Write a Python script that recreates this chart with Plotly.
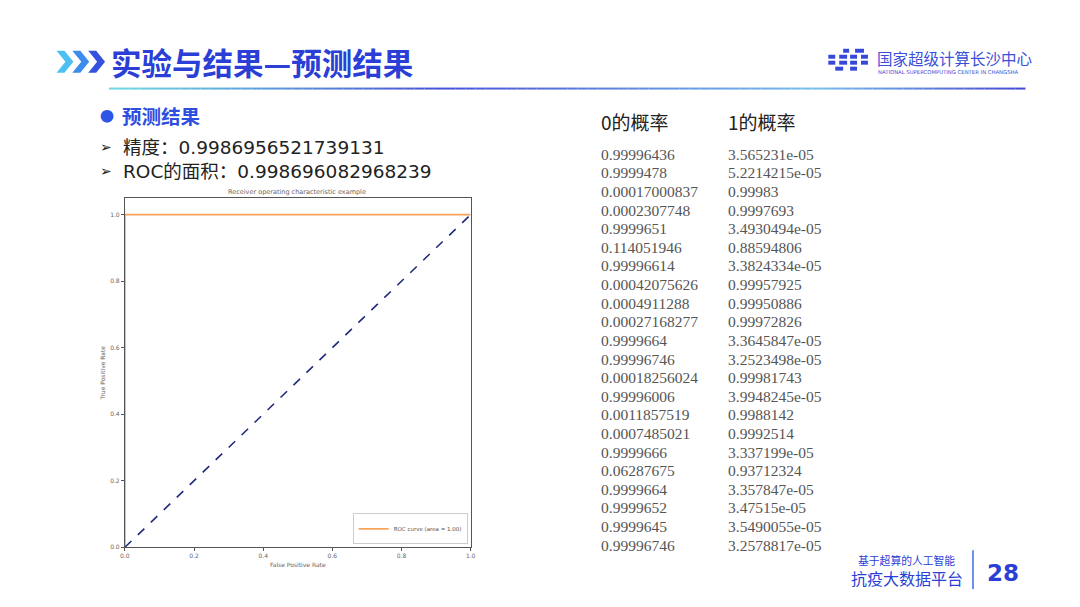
import plotly.graph_objects as go

W, H = 1080, 607

# ---------------- data ----------------
fpr = [0.0, 0.0, 1.0]
tpr = [0.0, 1.0, 1.0]
diag_x = [0.0, 1.0]
diag_y = [0.0, 1.0]
roc_auc_label = "ROC curve (area = 1.00)"
tick_vals = [0.0, 0.2, 0.4, 0.6, 0.8, 1.0]

accuracy = "0.9986956521739131"
roc_area = "0.998696082968239"

prob_header = ["0的概率", "1的概率"]
prob0 = ["0.99996436", "0.9999478", "0.00017000837", "0.0002307748", "0.9999651",
         "0.114051946", "0.99996614", "0.00042075626", "0.0004911288", "0.00027168277",
         "0.9999664", "0.99996746", "0.00018256024", "0.99996006", "0.0011857519",
         "0.0007485021", "0.9999666", "0.06287675", "0.9999664", "0.9999652",
         "0.9999645", "0.99996746"]
prob1 = ["3.565231e-05", "5.2214215e-05", "0.99983", "0.9997693", "3.4930494e-05",
         "0.88594806", "3.3824334e-05", "0.99957925", "0.99950886", "0.99972826",
         "3.3645847e-05", "3.2523498e-05", "0.99981743", "3.9948245e-05", "0.9988142",
         "0.9992514", "3.337199e-05", "0.93712324", "3.357847e-05", "3.47515e-05",
         "3.5490055e-05", "3.2578817e-05"]

# ---------------- helpers ----------------
def px(x):
    return x / W

def py(y):
    return 1 - y / H

CJK = "Noto Sans CJK SC"
BLUE = "#2b3fd6"

fig = go.Figure()

# ROC chart
fig.add_trace(go.Scatter(x=fpr, y=tpr, mode="lines", name=roc_auc_label,
                         line=dict(color="#f7a35c", width=1.8)))
fig.add_trace(go.Scatter(x=diag_x, y=diag_y, mode="lines", showlegend=False,
                         line=dict(color="#1f2a7a", width=1.6, dash="dash")))

axis_common = dict(showgrid=False, zeroline=False, showline=True, linecolor="#555",
                   linewidth=1, mirror=True, ticks="outside", ticklen=3,
                   tickcolor="#555", tickvals=tick_vals, tickformat=".1f",
                   tickfont=dict(family="DejaVu Sans", size=6, color="#666"))
fig.update_layout(
    width=W, height=H, autosize=False,
    margin=dict(l=0, r=0, t=0, b=0),
    paper_bgcolor="white", plot_bgcolor="white",
    xaxis=dict(domain=[px(121), px(470)], range=[0, 1], anchor="y",
               title=dict(text="False Positive Rate", standoff=4,
                          font=dict(family="DejaVu Sans", size=6, color="#666")),
               **axis_common),
    yaxis=dict(domain=[py(550), py(199)], range=[0, 1.05], anchor="x",
               title=dict(text="True Positive Rate", standoff=4,
                          font=dict(family="DejaVu Sans", size=6, color="#666")),
               **axis_common),
    legend=dict(x=px(467), y=py(547), xanchor="right", yanchor="bottom",
                bgcolor="white", bordercolor="#ccc", borderwidth=1,
                font=dict(family="DejaVu Sans", size=5.5, color="#555"),
                itemwidth=30, tracegroupgap=0),
    showlegend=True,
)

ann = []
shapes = []

def text(x, y, s, size, color, family=CJK, anchor="left", bold=False, align="left"):
    if bold:
        s = "<b>" + s + "</b>"
    ann.append(dict(x=px(x), y=py(y), xref="paper", yref="paper", text=s,
                    showarrow=False, xanchor=anchor, yanchor="middle", align=align,
                    font=dict(family=family, size=size, color=color)))

# chart title
text(295, 193, "Receiver operating characteristic example", 6.5, "#666",
     family="DejaVu Sans", anchor="center")

# slide header chevrons
chev_cols = ["#4cc0f2", "#3c8ceb", "#3452de"]
for i, c in enumerate(chev_cols):
    x0 = 52 + i * 16
    path = (f"M {px(x0)},{py(51)} L {px(x0+8)},{py(51)} L {px(x0+17)},{py(62)} "
            f"L {px(x0+8)},{py(73)} L {px(x0)},{py(73)} L {px(x0+9)},{py(62)} Z")
    shapes.append(dict(type="path", path=path, xref="paper", yref="paper",
                       fillcolor=c, line=dict(width=0)))

text(105, 62, "实验与结果—预测结果", 30.5, BLUE, bold=True)

# gradient underline
stops = [(105, (110, 220, 225)), (440, (70, 80, 215)), (820, (120, 190, 235)),
         (1030, (70, 70, 210))]
nseg = 90
for k in range(nseg):
    xa = 105 + (1030 - 105) * k / nseg
    xb = 105 + (1030 - 105) * (k + 1) / nseg
    xm = (xa + xb) / 2
    for j in range(len(stops) - 1):
        if stops[j][0] <= xm <= stops[j + 1][0]:
            t = (xm - stops[j][0]) / (stops[j + 1][0] - stops[j][0])
            c = tuple(int(stops[j][1][q] + t * (stops[j + 1][1][q] - stops[j][1][q])) for q in range(3))
            break
    shapes.append(dict(type="line", xref="paper", yref="paper", x0=px(xa), x1=px(xb),
                       y0=py(89), y1=py(89), line=dict(color=f"rgb{c}", width=2)))

# logo dots
dots = [(846, 51, 6), (858, 51, 9),
        (831, 57, 7), (842, 57, 8), (853, 57, 7), (864, 57, 7),
        (831, 63, 7), (842, 63, 8), (853, 63, 7), (864, 63, 7),
        (838, 69, 8), (853, 69, 7)]
for (x0, y0, w) in dots:
    shapes.append(dict(type="rect", xref="paper", yref="paper", x0=px(x0), x1=px(x0 + w),
                       y0=py(y0 + 2), y1=py(y0 - 2), fillcolor="#3548d8", line=dict(width=0)))
text(878, 58, "国家超级计算长沙中心", 15.5, "#3a50d8")
text(879, 72, "NATIONAL SUPERCOMPUTING CENTER IN CHANGSHA", 5.3, "#3a50d8",
     family="DejaVu Sans")

# bullet section
text(94, 116, "●", 14, "#2d55e6")
text(116, 116, "预测结果", 19.5, "#2d4ee0", bold=True)
text(94, 148, "➢", 14, "#222", family="DejaVu Sans")
text(94, 172, "➢", 14, "#222", family="DejaVu Sans")
text(117, 160, "精度：" + accuracy + "<br>ROC的面积：" + roc_area, 18.5, "#222",
     family="DejaVu Sans, Noto Sans CJK SC")

# probability table
col_x = [600, 728]
text(col_x[0], 122, prob_header[0], 19, "#222")
text(col_x[1], 122, prob_header[1], 19, "#222")
y0, dy = 155, 18.71
for i, (a, b) in enumerate(zip(prob0, prob1)):
    y = y0 + i * dy
    text(col_x[0], y, a, 15.5, "#555", family="Liberation Serif")
    text(col_x[1], y, b, 15.5, "#555", family="Liberation Serif")

# footer
text(910, 563, "基于超算的人工智能", 10.8, BLUE, anchor="center")
text(910, 581, "抗疫大数据平台", 16, BLUE, anchor="center")
shapes.append(dict(type="line", xref="paper", yref="paper", x0=px(977), x1=px(977),
                   y0=py(553), y1=py(592), line=dict(color="#6a8ef0", width=2)))
text(989, 576, "28", 23, BLUE, family="DejaVu Sans", bold=True)

fig.update_layout(annotations=ann, shapes=shapes)

fig.write_html("out.html", config={"displayModeBar": False},
               post_script="document.body.style.margin='0';document.body.style.padding='0';")
